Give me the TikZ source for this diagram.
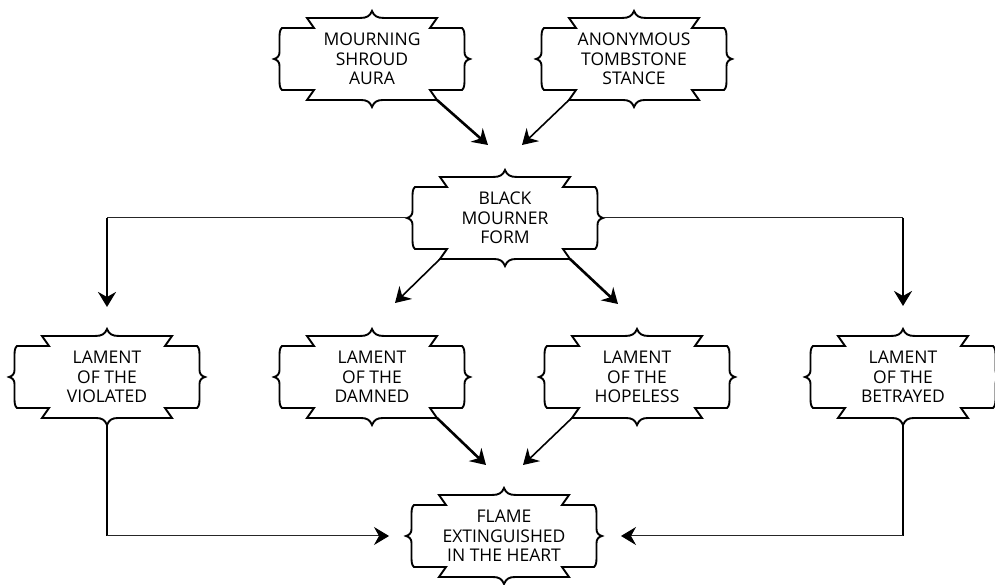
\documentclass[tikz,border=0pt]{standalone}
\usepackage{fontspec}
\setmainfont{Open Sans}
\usetikzlibrary{arrows.meta}
\tikzset{
  outline/.style={line width=1.9pt, line join=miter, draw=black},
  txt/.style={align=center, inner sep=0pt, font=\fontsize{17.5}{19.5}\selectfont},
  thickc/.style={line width=2.6pt},
  medc/.style={line width=1.6pt},
  thinc/.style={line width=1pt, draw=black!85},
  tip/.style={-{Stealth[length=15pt,width=18pt,inset=5pt,color=black]}},
}
% outline drawn around a named node
\newcommand\ornframe[1]{%
  \draw[outline, shift={(#1.center)}]
    (-90,31) -- (-58,31) -- (-65,41) -- (-12,41)
      .. controls (-5,41) and (-2,43) .. (0,48)
      .. controls (2,43) and (5,41) .. (12,41)
      -- (65,41) -- (58,31) -- (90,31)
      .. controls (92.5,29) and (92.5,25) .. (92.5,20) -- (92.5,7)
      .. controls (92.5,3) and (94.5,1) .. (98,0)
      .. controls (94.5,-1) and (92.5,-3) .. (92.5,-7) -- (92.5,-20)
      .. controls (92.5,-25) and (92.5,-29) .. (90,-31)
      -- (58,-31) -- (65,-41) -- (11,-41)
      .. controls (5,-41) and (2,-43) .. (0,-48)
      .. controls (-2,-43) and (-5,-41) .. (-11,-41)
      -- (-65,-41) -- (-58,-31) -- (-90,-31)
      .. controls (-92.5,-29) and (-92.5,-25) .. (-92.5,-20) -- (-92.5,-7)
      .. controls (-92.5,-3) and (-94.5,-1) .. (-98,0)
      .. controls (-94.5,1) and (-92.5,3) .. (-92.5,7) -- (-92.5,20)
      .. controls (-92.5,25) and (-92.5,29) .. (-90,31) -- cycle;
  \coordinate (#1-E) at ([xshift=98pt]#1.center);
  \coordinate (#1-W) at ([xshift=-98pt]#1.center);
  \coordinate (#1-N) at ([yshift=48pt]#1.center);
  \coordinate (#1-S) at ([yshift=-48pt]#1.center);
  \coordinate (#1-SE) at ([xshift=65pt,yshift=-41pt]#1.center);
  \coordinate (#1-SW) at ([xshift=-65pt,yshift=-41pt]#1.center);
}
\begin{document}
\begin{tikzpicture}[x=1pt,y=1pt]
\useasboundingbox (0,0) rectangle (995,585);
\fill[white] (0,0) rectangle (995,585);

\node[txt] (mourn) at (372,526) {MOURNING\\SHROUD\\AURA};
\node[txt] (anon)  at (634,526) {ANONYMOUS\\TOMBSTONE\\STANCE};
\node[txt] (black) at (505,367) {BLACK\\MOURNER\\FORM};
\node[txt] (viol)  at (107,208) {LAMENT\\OF THE\\VIOLATED};
\node[txt] (damn)  at (372,208) {LAMENT\\OF THE\\DAMNED};
\node[txt] (hope)  at (637,208) {LAMENT\\OF THE\\HOPELESS};
\node[txt] (betr)  at (903,208) {LAMENT\\OF THE\\BETRAYED};
\node[txt] (flame) at (504,49)  {FLAME\\EXTINGUISHED\\IN THE HEART};

\foreach \n in {mourn,anon,black,viol,damn,hope,betr,flame} {\ornframe{\n}}

% arrow end points
\coordinate (bIn1) at ([xshift=-17pt,yshift=73pt]black.center);
\coordinate (bIn2) at ([xshift=17pt,yshift=73pt]black.center);
\coordinate (dIn) at ([xshift=23pt,yshift=74pt]damn.center);
\coordinate (hIn) at ([xshift=-19pt,yshift=73pt]hope.center);
\coordinate (fIn1) at ([xshift=-18pt,yshift=71pt]flame.center);
\coordinate (fIn2) at ([xshift=19pt,yshift=71pt]flame.center);
\coordinate (vIn) at ([yshift=70pt]viol.center);
\coordinate (tIn) at ([yshift=71pt]betr.center);
\coordinate (vTurn) at (viol.center |- black.center);
\coordinate (tTurn) at (betr.center |- black.center);
\coordinate (vDown) at (viol.center |- flame.center);
\coordinate (tDown) at (betr.center |- flame.center);
\coordinate (fW) at ([xshift=-115pt]flame.center);
\coordinate (fE) at ([xshift=117pt]flame.center);

% connectors
\draw[thickc,tip] (mourn-SE) -- (bIn1);
\draw[medc,tip] (anon-SW) -- (bIn2);
\draw[medc,tip] (black-SW) -- (dIn);
\draw[thickc,tip] (black-SE) -- (hIn);
\draw[thickc,tip] (damn-SE) -- (fIn1);
\draw[medc,tip] (hope-SW) -- (fIn2);

\draw[thinc] (black-W) -- (vTurn);
\draw[thickc,tip] (vTurn) -- (vIn);
\draw[thinc] (black-E) -- (tTurn);
\draw[thickc,tip] (tTurn) -- (tIn);

\draw[thickc] (viol-S) -- (vDown);
\draw[thinc,tip] (vDown) -- (fW);
\draw[thickc] (betr-S) -- (tDown);
\draw[thinc,tip] (tDown) -- (fE);
\end{tikzpicture}
\end{document}
